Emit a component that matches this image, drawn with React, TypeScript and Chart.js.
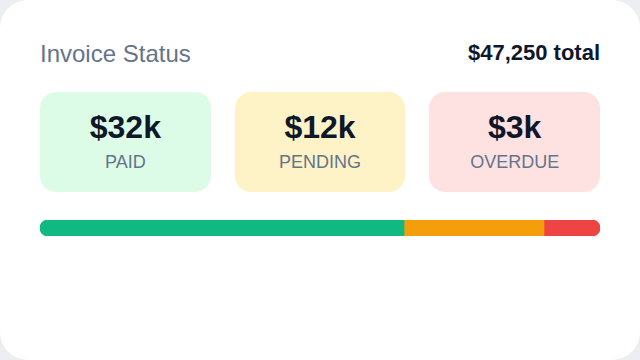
import React, { useEffect, useRef } from "react";
import { Chart, registerables } from "chart.js";

Chart.register(...registerables);

const title = "Invoice Status";
const totalLabel = "$47,250 total";
const categories = ["Paid", "Pending", "Overdue"];
const tileValues = ["$32k", "$12k", "$3k"];
const tileLabels = ["PAID", "PENDING", "OVERDUE"];
const barShares = [65, 25, 10];
const barColors = ["#10b981", "#f59e0b", "#ef4444"];
const tileColors = ["#dcfce7", "#fef3c7", "#fee2e2"];

const FONT = '"Liberation Sans", Arial, Helvetica, sans-serif';

function StatusBar() {
  const ref = useRef<HTMLCanvasElement | null>(null);
  useEffect(() => {
    if (!ref.current) return;
    const last = categories.length - 1;
    const chart = new Chart(ref.current, {
      type: "bar",
      data: {
        labels: ["Invoices"],
        datasets: categories.map((c, i) => ({
          label: c,
          data: [barShares[i]],
          backgroundColor: barColors[i],
          borderRadius: {
            topLeft: i === 0 ? 8 : 0,
            bottomLeft: i === 0 ? 8 : 0,
            topRight: i === last ? 8 : 0,
            bottomRight: i === last ? 8 : 0,
          },
          borderSkipped: false,
          barPercentage: 1,
          categoryPercentage: 1,
        })),
      },
      options: {
        indexAxis: "y",
        animation: false,
        responsive: true,
        maintainAspectRatio: false,
        layout: { padding: 0 },
        plugins: { legend: { display: false }, tooltip: { enabled: false } },
        scales: {
          x: {
            stacked: true,
            display: false,
            min: 0,
            max: barShares.reduce((a, b) => a + b, 0),
          },
          y: { stacked: true, display: false },
        },
      },
    });
    return () => chart.destroy();
  }, []);
  return (
    <div style={{ position: "relative", width: 560, height: 16 }}>
      <canvas ref={ref} />
    </div>
  );
}

export default function App() {
  useEffect(() => {
    document.body.style.margin = "0";
    document.body.style.background = "#edeef2";
  }, []);
  return (
    <div
      style={{
        position: "fixed",
        left: 0,
        top: 0,
        width: 640,
        height: 360,
        background: "#edeef2",
        fontFamily: FONT,
      }}
    >
      <div
        style={{
          position: "absolute",
          left: 0,
          top: 0,
          width: 640,
          height: 360,
          background: "#ffffff",
          borderRadius: 28,
          boxSizing: "border-box",
          padding: 40,
        }}
      >
        <div
          style={{
            display: "flex",
            justifyContent: "space-between",
            alignItems: "center",
            height: 28,
          }}
        >
          <span style={{ fontSize: 24, lineHeight: "28px", color: "#64748b" }}>
            {title}
          </span>
          <span
            style={{
              fontSize: 22,
              lineHeight: "28px",
              fontWeight: 700,
              color: "#0f172a",
              position: "relative",
              top: -1,
            }}
          >
            {totalLabel}
          </span>
        </div>
        <div
          style={{
            display: "grid",
            gridTemplateColumns: "1fr 1fr 1fr",
            gap: 24,
            marginTop: 24,
          }}
        >
          {tileValues.map((v, i) => (
            <div
              key={i}
              style={{
                background: tileColors[i],
                borderRadius: 16,
                height: 100,
                boxSizing: "border-box",
                paddingTop: 17,
                display: "flex",
                flexDirection: "column",
                alignItems: "center",
              }}
            >
              <div
                style={{
                  fontSize: 32,
                  fontWeight: 700,
                  color: "#0f172a",
                  lineHeight: "36px",
                }}
              >
                {v}
              </div>
              <div
                style={{
                  fontSize: 18,
                  color: "#64748b",
                  marginTop: 6,
                  lineHeight: "22px",
                }}
              >
                {tileLabels[i]}
              </div>
            </div>
          ))}
        </div>
        <div style={{ marginTop: 28 }}>
          <StatusBar />
        </div>
      </div>
    </div>
  );
}
